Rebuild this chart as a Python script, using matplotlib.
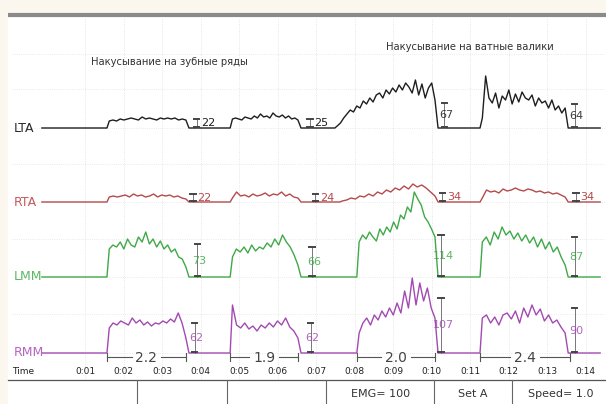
import numpy as np
import matplotlib.pyplot as plt

# channel names, colours and baseline levels (µV scale, one unit ~ one pixel)
channels = ["LTA", "RTA", "LMM", "RMM"]
colors = ["#1e1e1e", "#b54a4c", "#3fa948", "#a24ab2"]
label_colors = ["#2a2a2a", "#c25b5e", "#5cb865", "#b565c0"]
baselines = [276, 202, 127, 51]

# burst onsets / offsets in seconds, per channel
onsets = {
    "LTA": [1.57, 4.77, 7.49, 11.26],
    "RTA": [1.57, 4.77, 7.62, 11.26],
    "LMM": [1.57, 4.77, 8.06, 11.26],
    "RMM": [1.57, 4.77, 8.06, 11.26],
}
offsets = [3.62, 6.53, 10.09, 13.47]

# EMG envelope samples within each burst
lta = [
    [7, 8, 7, 9, 8, 9, 10, 9, 8, 11, 9, 10, 9, 8, 10, 9, 10, 9, 10, 8, 9, 8],
    [9, 10, 9, 8, 11, 10, 9, 12, 10, 14, 11, 12, 10, 15, 12, 11, 13, 10, 12, 9, 10, 8],
    [2, 5, 10, 14, 18, 16, 22, 20, 27, 24, 30, 26, 33, 35, 30, 38, 34, 40, 36, 43, 38,
     45, 41, 35, 48, 33, 44, 30, 40, 45, 28],
    [10, 52, 30, 25, 35, 20, 32, 28, 38, 24, 34, 26, 36, 30, 28, 33, 22, 30, 25, 27,
     20, 28, 18, 22, 15, 20],
]
rta = [
    [5, 6, 5, 6, 7, 5, 8, 6, 7, 5, 6, 8, 5, 7, 6, 7, 5, 6, 4, 3],
    [4, 10, 6, 7, 5, 8, 6, 7, 9, 6, 8, 7, 10, 6, 8, 5, 4],
    [1, 2, 4, 3, 6, 5, 8, 6, 10, 8, 12, 10, 14, 12, 16, 13, 18, 15, 17, 14, 10, 6],
    [4, 12, 10, 11, 9, 13, 11, 12, 14, 12, 11, 13, 12, 10, 11, 9, 10, 8, 9, 7, 5],
]
lmm = [
    [28, 32, 30, 35, 28, 38, 32, 30, 40, 35, 45, 33, 38, 30, 36, 28, 32, 25, 28, 20, 18, 10],
    [20, 28, 25, 30, 24, 32, 26, 30, 28, 34, 30, 38, 32, 42, 35, 30, 22, 12],
    [35, 42, 38, 45, 40, 36, 48, 42, 50, 45, 55, 48, 62, 58, 70, 65, 85, 78, 72, 60, 55, 48, 40],
    [35, 40, 32, 45, 38, 50, 42, 46, 38, 44, 36, 42, 34, 40, 30, 38, 28, 35, 25, 30, 20, 12],
]
rmm = [
    [25, 30, 28, 32, 30, 28, 35, 30, 33, 28, 31, 27, 30, 29, 32, 30, 34, 31, 40, 30, 15],
    [48, 28, 25, 30, 24, 27, 22, 28, 25, 30, 26, 32, 28, 35, 26, 22, 15],
    [20, 30, 35, 28, 38, 33, 42, 36, 45, 38, 50, 40, 62, 45, 75, 48, 70, 52, 65, 45, 35],
    [35, 38, 30, 36, 28, 38, 40, 34, 42, 30, 45, 36, 48, 38, 44, 32, 38, 30, 33, 26, 20],
]
signals = {"LTA": lta, "RTA": rta, "LMM": lmm, "RMM": rmm}

# amplitude readouts after each burst
amp_labels = {
    "LTA": ["22", "25", "67", "64"],
    "RTA": ["22", "24", "34", "34"],
    "LMM": ["73", "66", "114", "87"],
    "RMM": ["62", "62", "107", "90"],
}
amp_heights = {
    "LTA": [9, 9, 25, 24],
    "RTA": [8, 8, 9, 9],
    "LMM": [33, 30, 42, 40],
    "RMM": [30, 30, 55, 45],
}
amp_times = {
    "LTA": [3.9, 6.84, 10.33, 13.72],
    "RTA": [3.8, 6.98, 10.28, 13.75],
    "LMM": [3.92, 6.9, 10.25, 13.72],
    "RMM": [3.85, 6.86, 10.25, 13.72],
}

# burst durations shown under RMM
dur_start = [1.57, 4.77, 8.06, 11.26]
dur_end = [3.62, 6.53, 10.09, 13.6]
dur_text = ["2.2", "1.9", "2.0", "2.4"]

tick_times = list(range(1, 15))
tick_labels = ["0:%02d" % t for t in tick_times]

box_edges = [2.34, 4.68, 7.26, 10.06, 12.08]
box_texts = [("EMG= 100", 8.67), ("Set A", 11.07), ("Speed= 1.0", 13.35)]

titles = [("Накусывание на зубные ряды", 3.2, 342), ("Накусывание на ватные валики", 11.0, 357)]

t0, t1 = -1.208, 14.532
bg = "#fbf6ee"

fig = plt.figure(figsize=(6.06, 4.04), dpi=100, facecolor=bg)
ax = fig.add_axes([0, 0, 1, 1])
ax.set_xlim(t0, t1)
ax.set_ylim(0, 404)
ax.axis("off")

# white paper area and top rule
ax.add_patch(plt.Rectangle((-1.0, 0), t1 + 1.0, 389, color="white", zorder=0))
ax.plot([-1.0, t1], [389, 389], color="#8a8a8a", lw=3, solid_capstyle="butt", zorder=1)

# faint dotted grid
for t in tick_times:
    ax.plot([t, t], [24, 385], color="#dedede", lw=0.6, ls=":", zorder=1)
for gy in [51, 90, 127, 165, 202, 240, 276, 315, 350]:
    ax.plot([-0.9, t1], [gy, gy], color="#e4e4e4", lw=0.6, ls=":", zorder=1)


def build_trace(on, off, bursts, start=-0.12, end=14.38):
    xs, ys = [start], [0]
    for a, b, v in zip(on, off, bursts):
        xs += [a]
        ys += [0]
        xs += list(np.linspace(a + 0.06, b, len(v)))
        ys += v
        xs += [b + 0.08]
        ys += [0]
    xs += [end]
    ys += [0]
    return np.array(xs), np.array(ys)


for name, col, lcol, base in zip(channels, colors, label_colors, baselines):
    xs, ys = build_trace(onsets[name], offsets, signals[name])
    ax.plot(xs, ys + base, color=col, lw=1.0, zorder=3)
    ax.text(-0.84, base, name, color=lcol, fontsize=9, ha="left", va="center", zorder=4)

    for t, h, lab in zip(amp_times[name], amp_heights[name], amp_labels[name]):
        ax.plot([t, t], [base, base + h], color="#777777", lw=0.7, zorder=4)
        for cy in (base + 1, base + h):
            ax.plot([t - 0.07, t + 0.07], [cy, cy], color="#444444", lw=1.4, zorder=4)
        if h < 15:
            ax.text(t + 0.12, base + h / 2, lab, color=col, fontsize=8, ha="left",
                    va="center", zorder=5)
        else:
            ax.text(t + 0.05, base + h / 2, lab, color=col, fontsize=8, ha="center",
                    va="center", zorder=5, alpha=0.85)

# duration brackets
for a, b, lab in zip(dur_start, dur_end, dur_text):
    m = (a + b) / 2
    ax.plot([a, m - 0.38], [47, 47], color="#555555", lw=0.8)
    ax.plot([m + 0.38, b], [47, 47], color="#555555", lw=0.8)
    for e in (a, b):
        ax.plot([e, e], [43, 51], color="#555555", lw=0.8)
    ax.text(m, 46, lab, fontsize=10, color="#444444", ha="center", va="center")

# titles
for txt, tx, ty in titles:
    ax.text(tx, ty, txt, fontsize=7.2, color="#333333", ha="center", va="center")

# time axis
ax.text(-0.9, 33, "Time", fontsize=6.5, color="#222222", ha="left", va="center")
for t, lab in zip(tick_times, tick_labels):
    ax.text(t, 33, lab, fontsize=6.5, color="#222222", ha="center", va="center")
ax.plot([-1.0, t1], [24, 24], color="#555555", lw=0.9)
for e in box_edges:
    ax.plot([e, e], [0, 24], color="#666666", lw=0.8)
for txt, tx in box_texts:
    ax.text(tx, 10, txt, fontsize=8, color="#333333", ha="center", va="center")

fig.savefig("out.png", dpi=100, facecolor=bg)
